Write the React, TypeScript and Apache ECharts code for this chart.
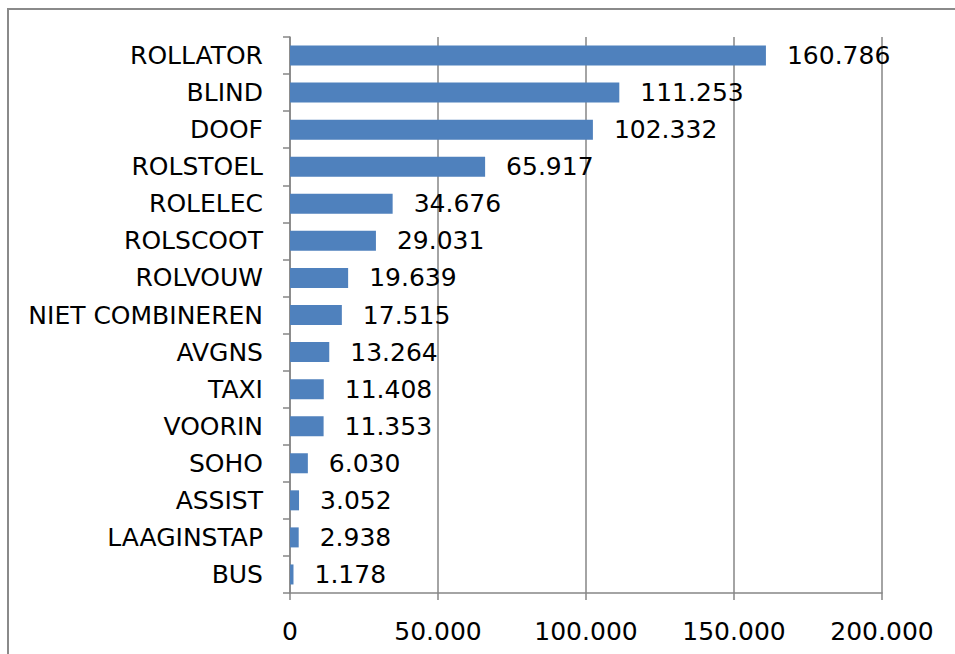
import React, { useEffect, useRef } from "react";
import * as echarts from "echarts";

const categories = [
  "ROLLATOR",
  "BLIND",
  "DOOF",
  "ROLSTOEL",
  "ROLELEC",
  "ROLSCOOT",
  "ROLVOUW",
  "NIET COMBINEREN",
  "AVGNS",
  "TAXI",
  "VOORIN",
  "SOHO",
  "ASSIST",
  "LAAGINSTAP",
  "BUS",
];
const values = [
  160786, 111253, 102332, 65917, 34676, 29031, 19639, 17515, 13264, 11408,
  11353, 6030, 3052, 2938, 1178,
];
const axisMin = 0;
const axisMax = 200000;
const axisInterval = 50000;

const fmt = (n: number) =>
  String(Math.round(n)).replace(/\B(?=(\d{3})+(?!\d))/g, ".");

export default function App() {
  const ref = useRef<HTMLDivElement>(null);
  useEffect(() => {
    if (!ref.current) return;
    const chart = echarts.init(ref.current, null, { renderer: "svg" });
    const font = "DejaVu Sans";
    const gray = "#868686";
    chart.setOption({
      animation: false,
      backgroundColor: "#ffffff",
      grid: { left: 290, right: 73, top: 37, bottom: 61, containLabel: false },
      graphic: [
        {
          type: "rect",
          shape: { x: 8, y: 9, width: 1000, height: 700 },
          style: { fill: "none", stroke: "#8a8a8a", lineWidth: 2 },
          silent: true,
        },
      ],
      xAxis: {
        type: "value",
        min: axisMin,
        max: axisMax,
        interval: axisInterval,
        axisLine: { show: true, lineStyle: { color: gray, width: 1.5 } },
        axisTick: { show: true, length: 7, lineStyle: { color: gray, width: 1.5 } },
        splitLine: { show: true, lineStyle: { color: gray, width: 1.5 } },
        axisLabel: {
          color: "#000",
          fontFamily: font,
          fontSize: 25,
          margin: 26,
          formatter: (v: number) => fmt(v),
        },
      },
      yAxis: {
        type: "category",
        data: categories,
        inverse: true,
        axisLine: { show: true, lineStyle: { color: gray, width: 1.5 } },
        axisTick: { show: true, length: 7, lineStyle: { color: gray, width: 1.5 } },
        axisLabel: {
          color: "#000",
          fontFamily: font,
          fontSize: 25,
          margin: 27,
          padding: [2, 0, 0, 0],
        },
      },
      series: [
        {
          type: "bar",
          data: values,
          barCategoryGap: "46%",
          itemStyle: { color: "#4F81BD" },
          label: {
            show: true,
            position: "right",
            distance: 21,
            color: "#000",
            fontFamily: font,
            fontSize: 25,
            padding: [2, 0, 0, 0],
            formatter: (p: any) => fmt(p.value),
          },
        },
      ],
    });
    return () => chart.dispose();
  }, []);
  return (
    <div
      ref={ref}
      style={{ position: "fixed", left: 0, top: 0, width: 955, height: 654 }}
    />
  );
}
